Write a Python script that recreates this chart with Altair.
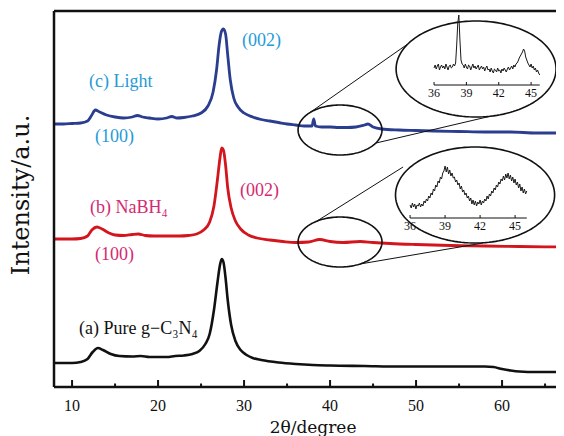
import altair as alt
import pandas as pd
import numpy as np

FONT = "Liberation Serif"
WIDE_FONT = "DejaVu Serif"

# ---------------- data (2θ in degree, intensity in a.u.) ----------------
x_tick_labels = [10, 20, 30, 40, 50, 60]
x_minor_ticks = [15, 25, 35, 45, 55, 65]
x_title = "2θ/degree"
y_title = "Intensity/a.u."

# (c) Light
theta_c = [7.9, 9, 10, 11, 11.8, 12.3, 12.7, 13.2, 14, 15, 16, 17, 17.6, 18.2, 19, 20, 21, 21.6,
           22.2, 23, 24, 25, 25.8, 26.4, 26.8, 27.1, 27.35, 27.6, 27.85, 28.1, 28.4, 28.8, 29.3,
           30, 31, 32, 33, 34, 35, 36, 37, 37.9, 38.1, 38.3, 39, 40, 41, 42, 43, 44, 44.4, 45,
           46, 48, 50, 52, 55, 58, 61, 64, 67.2]
int_c = [263, 263, 263.5, 264, 266, 272, 277, 275, 272, 270, 269, 270, 271.5, 270, 269, 268, 269,
         270.5, 269, 269.5, 271, 274, 281, 295, 317, 342, 355, 358, 353, 332, 307, 289, 280, 274,
         270, 267.5, 266, 264.5, 263, 262, 261, 261, 268, 261, 260, 260, 259.5, 259.5, 260, 262,
         263, 260, 258, 257, 256.5, 256, 255.5, 255, 255, 254, 254]

# (b) NaBH4
theta_b = [7.9, 10, 11, 11.8, 12.3, 12.9, 13.5, 14.3, 15, 16, 17, 17.7, 18.5, 19.5, 20.5, 21.5,
           22.5, 23.5, 24.5, 25.3, 26, 26.5, 26.9, 27.2, 27.4, 27.6, 27.85, 28.1, 28.5, 29, 29.6,
           30.5, 31.5, 33, 34.5, 36, 37.5, 38.8, 40, 41.5, 43.5, 45, 47, 50, 54, 58, 62, 67.2]
int_b = [148, 148, 148.5, 151, 157, 160, 158, 154, 152, 151.5, 152.5, 153, 151.5, 151, 151, 151,
         151, 151.5, 153, 157, 165, 181, 207, 229, 239, 237, 222, 199, 179, 166, 158, 152, 149,
         147, 145.5, 144.5, 145, 147.5, 145.5, 144.5, 145.5, 144.5, 143.5, 142.5, 141.5, 141,
         140.5, 140]

# (a) Pure g-C3N4
theta_a = [7.9, 10, 11, 11.8, 12.4, 13, 13.6, 14.5, 15.5, 17, 18, 19, 20, 21, 22, 23, 24, 24.8,
           25.5, 26, 26.5, 26.9, 27.2, 27.4, 27.6, 27.85, 28.1, 28.5, 29, 29.6, 30.3, 31, 32, 34,
           36, 38, 40, 44, 48, 52, 55, 58, 59, 60, 61, 62, 64, 67.2]
int_a = [24, 24, 25, 28, 35, 39, 37, 33, 31, 30.5, 31, 30, 30, 30, 31, 31.5, 33, 36, 43, 53, 77,
         104, 122, 128, 125, 109, 87, 62, 46, 37, 32, 29, 27, 24.5, 23, 22, 21.5, 21, 20.5, 20.5,
         20.5, 20.5, 20, 18, 16.5, 15.5, 15, 15]

# inset of (c): 36.0 ... 45.8 step 0.1
inset_c_vals = [17, 20, 16, 19, 21, 15, 18, 20, 17, 19, 16, 21, 18, 15, 19, 20, 17, 18, 21, 19,
                22, 40, 62, 70, 45, 25, 21,
                20, 17, 21, 18, 16, 20, 19, 15, 18, 21, 17, 19, 16, 18, 20, 15, 17, 19, 16, 18,
                14, 17, 19, 15,
                16, 13, 17, 14, 12, 16, 15, 13, 17, 14, 15, 12, 16, 14, 17, 15, 13, 16, 18, 15,
                17, 19, 16, 20, 18, 21, 22, 24,
                27, 29, 31, 33, 36, 34, 28, 25, 22,
                20, 18, 21, 17, 19, 15, 17, 13, 15, 12, 10]
inset_c_theta = [round(36 + 0.1 * k, 1) for k in range(len(inset_c_vals))]
inset_c_ticks = [36, 39, 42, 45]

# inset of (b): 36.0 ... 46.0 step 0.1
inset_b_vals = [13, 10, 15, 11, 14, 9, 13, 12, 15, 11,
                14, 12, 17, 15, 19, 17, 22, 20, 25, 23,
                29, 27, 33, 31, 37, 35, 41, 39, 45, 47,
                52, 46, 51, 44, 48, 42, 45, 40, 41, 36,
                38, 33, 35, 29, 32, 26, 28, 23, 25, 20,
                22, 17, 20, 14, 18, 13, 17, 12, 16, 14,
                18, 13, 17, 15, 19, 17, 22, 19, 24, 22,
                27, 25, 30, 28, 33, 31, 36, 34, 39, 37,
                42, 38, 44, 40, 45, 39, 43, 37, 41, 35,
                39, 33, 36, 30, 34, 27, 31, 25, 29, 24, 27]
inset_b_theta = [round(36 + 0.1 * k, 1) for k in range(len(inset_b_vals))]
inset_b_ticks = [36, 39, 42, 45]

# annotation labels
label_text = ["(c) Light", "(100)", "(002)", "(b) NaBH₄", "(100)", "(002)", "(a) Pure g−C₃N₄"]
label_x = [11.98, 12.67, 29.77, 12.09, 12.67, 29.53, 10.81]
label_y = [305, 250, 346, 179, 132, 196, 58]
label_color = ["#1f9bd7", "#1f9bd7", "#1f9bd7", "#d42a72", "#d42a72", "#d42a72", "#111111"]

# zoom ellipses (centre x, centre y, radius x, radius y)
ell_cx = [56.98, 56.86, 41.16, 41.16]
ell_cy = [318, 192, 257, 145]
ell_rx = [9.3, 9.25, 4.88, 4.88]
ell_ry = [48, 48, 25, 25]

# connector lines
con_x1 = [37.67, 45.35, 38.49, 43.49]
con_y1 = [274.5, 244, 166, 123]
con_x2 = [48.95, 58.6, 48.49, 57.79]
con_y2 = [342.5, 270.7, 220, 144]

# ---------------- chart ----------------
W, H = 502, 376
PXDEG = 8.6                     # main-axis pixels per degree
XMIN = 7.9
XMAX = XMIN + W / PXDEG

INS = {
    "c": dict(x0=10 + (434 - 72) / PXDEG, k=10.78 / PXDEG, y0=302, ky=1.0, xend=45.8),
    "b": dict(x0=10 + (410 - 72) / PXDEG, k=11.67 / PXDEG, y0=169, ky=1.0, xend=46.0),
}

xs = alt.Scale(domain=[XMIN, XMAX], nice=False, zero=False)
ys = alt.Scale(domain=[0, H], nice=False, zero=False)
X0 = alt.X("t:Q", scale=xs, axis=None)
Y0 = alt.Y("i:Q", scale=ys, axis=None)


def curve(th, it, color, w):
    df = pd.DataFrame({"t": th, "i": it})
    return alt.Chart(df).mark_line(color=color, strokeWidth=w, interpolate="monotone",
                                   clip=True).encode(x=X0, y=Y0)


c_a = curve(theta_a, int_a, "#111111", 2.6)
c_b = curve(theta_b, int_b, "#d3151d", 2.8)
c_c = curve(theta_c, int_c, "#2b3d8f", 2.8)

# frame: bottom axis, left axis, top line
frame_df = pd.DataFrame({"t": [XMIN, XMIN, XMIN], "t2": [XMAX, XMIN, XMAX],
                         "i": [0, 0, H], "i2": [0, H, H]})
frame = alt.Chart(frame_df).mark_rule(color="#111", strokeWidth=2.5).encode(
    x=X0, x2="t2:Q", y=Y0, y2="i2:Q")

ticks_df = pd.DataFrame({"t": x_tick_labels + x_minor_ticks,
                         "i": [0] * 12,
                         "i2": [7] * 6 + [3.5] * 6})
ticks = alt.Chart(ticks_df).mark_rule(color="#111", strokeWidth=2).encode(
    x=X0, y=Y0, y2="i2:Q")

tl_df = pd.DataFrame({"t": x_tick_labels, "i": [-19] * len(x_tick_labels),
                      "s": [str(v) for v in x_tick_labels]})
tick_labels = alt.Chart(tl_df).mark_text(font=FONT, fontSize=16, color="#111",
                                         align="center", baseline="middle").encode(
    x=X0, y=Y0, text="s:N")

xt_df = pd.DataFrame({"t": [10 + (313 - 72) / PXDEG], "i": [-41], "s": [x_title]})
xt = alt.Chart(xt_df).mark_text(font=WIDE_FONT, fontSize=17, color="#111", align="center",
                                baseline="middle").encode(x=X0, y=Y0, text="s:N")

yt_df = pd.DataFrame({"t": [XMIN - 32 / PXDEG], "i": [192], "s": [y_title]})
yt = alt.Chart(yt_df).mark_text(font=WIDE_FONT, fontSize=24, color="#111", align="center",
                                baseline="middle", angle=270).encode(x=X0, y=Y0, text="s:N")

ang = np.linspace(0, 2 * np.pi, 145)
rows = []
for e in range(len(ell_cx)):
    for k, a in enumerate(ang):
        rows.append({"e": e, "k": k,
                     "t": ell_cx[e] + ell_rx[e] * np.cos(a),
                     "i": ell_cy[e] + ell_ry[e] * np.sin(a)})
ell_df = pd.DataFrame(rows)
ellipses = alt.Chart(ell_df).mark_line(color="#111", strokeWidth=1.6).encode(
    x=X0, y=Y0, detail="e:N", order="k:Q")

con_df = pd.DataFrame({"t": con_x1, "i": con_y1, "t2": con_x2, "i2": con_y2})
connectors = alt.Chart(con_df).mark_rule(color="#111", strokeWidth=1).encode(
    x=X0, y=Y0, x2="t2:Q", y2="i2:Q")

lab_df = pd.DataFrame({"t": label_x, "i": label_y, "s": label_text, "c": label_color})
labels = alt.Chart(lab_df).mark_text(align="left", baseline="middle", font=FONT,
                                     fontSize=18).encode(
    x=X0, y=Y0, text="s:N", color=alt.Color("c:N", scale=None))


def inset_layers(th, vals, tick_vals, p):
    """Inset spectrum with its own small axis, placed in main-axis units."""
    def mx(v):
        return [p["x0"] + p["k"] * (t - 36) for t in v]

    df = pd.DataFrame({"t": mx(th), "i": [p["y0"] + p["ky"] * v for v in vals]})
    line = alt.Chart(df).mark_line(color="#1a1a1a", strokeWidth=1.0).encode(x=X0, y=Y0)

    ax_df = pd.DataFrame({"t": mx([36]), "t2": mx([p["xend"]]), "i": [p["y0"]]})
    axis_line = alt.Chart(ax_df).mark_rule(color="#111", strokeWidth=1).encode(
        x=X0, x2="t2:Q", y=Y0)

    tk_df = pd.DataFrame({"t": mx(tick_vals), "i": [p["y0"]] * len(tick_vals),
                          "i2": [p["y0"] + 3] * len(tick_vals),
                          "il": [p["y0"] - 8] * len(tick_vals),
                          "s": [str(v) for v in tick_vals]})
    tick_marks = alt.Chart(tk_df).mark_rule(color="#111", strokeWidth=1).encode(
        x=X0, y=Y0, y2="i2:Q")
    tick_text = alt.Chart(tk_df).mark_text(font=FONT, fontSize=12, color="#111",
                                           baseline="middle", align="center").encode(
        x=X0, y=alt.Y("il:Q", scale=ys, axis=None), text="s:N")
    return [line, axis_line, tick_marks, tick_text]


ins = inset_layers(inset_c_theta, inset_c_vals, inset_c_ticks, INS["c"]) + \
      inset_layers(inset_b_theta, inset_b_vals, inset_b_ticks, INS["b"])

chart = alt.layer(c_a, c_b, c_c, frame, ticks, tick_labels, xt, yt, ellipses, connectors,
                  labels, *ins).properties(
    width=W, height=H,
    padding={"left": 46, "top": 3, "right": 0, "bottom": 50},
    autosize=alt.AutoSizeParams(type="none"),
).configure_view(stroke=None)

chart.save("out.html", embed_options={"renderer": "svg", "actions": False})
